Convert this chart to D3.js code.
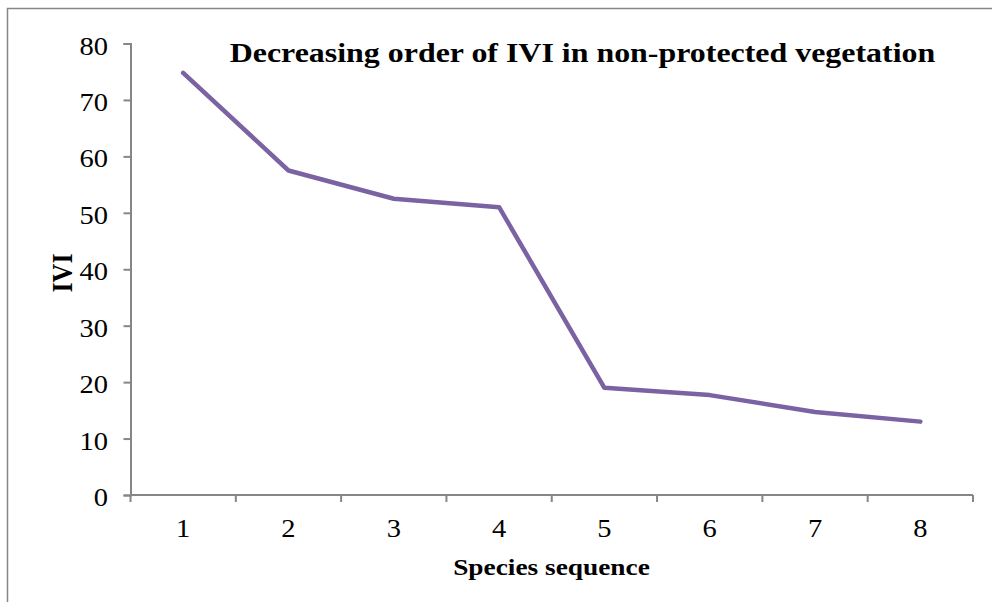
<!DOCTYPE html>
<html>
<head>
<meta charset="utf-8">
<script src="https://cdn.jsdelivr.net/npm/d3@7"></script>
<style>
  body { margin: 0; background: #fff; }
  svg text { font-family: "Liberation Serif", "Times New Roman", serif; fill: #000; }
</style>
</head>
<body>
<div id="chart"></div>
<script>
var species = ["1", "2", "3", "4", "5", "6", "7", "8"];
var ivi = [74.8, 57.5, 52.5, 51.0, 19.0, 17.7, 14.7, 13.0];
var yTicks = [0, 10, 20, 30, 40, 50, 60, 70, 80];

var width = 992, height = 602;
var margin = {top: 43.5, right: 19, bottom: 107, left: 130.5};
// the original picture is a little stretched sideways, text too
var sx = 1.14;

var svg = d3.select("#chart").append("svg")
  .attr("width", width)
  .attr("height", height);

// outer chart border (runs off right/bottom like the original crop)
svg.append("rect")
  .attr("x", 7.5).attr("y", 8.5)
  .attr("width", 1000).attr("height", 700)
  .attr("fill", "none")
  .attr("stroke", "#868686")
  .attr("stroke-width", 1.5);

var x = d3.scaleBand().domain(species).range([margin.left, width - margin.right]);
var y = d3.scaleLinear().domain([0, 80]).range([height - margin.bottom, margin.top]);

var axisColor = "#868686";

// y axis
var yAxis = svg.append("g")
  .attr("transform", "translate(" + margin.left + ",0)")
  .call(d3.axisLeft(y).tickValues(yTicks).tickSize(7));
yAxis.select(".domain").attr("stroke", axisColor).attr("stroke-width", 2);
yAxis.selectAll(".tick line").attr("stroke", axisColor).attr("stroke-width", 2);
yAxis.selectAll(".tick text")
  .attr("x", -22.5 / sx)
  .attr("dy", "0.42em")
  .attr("transform", "scale(" + sx + ",1)")
  .attr("font-size", 25)
  .attr("fill", "#000");

// x axis, ticks at category boundaries
var xAxisG = svg.append("g")
  .attr("transform", "translate(0," + y(0) + ")");
xAxisG.append("line")
  .attr("x1", x.range()[0]).attr("x2", x.range()[1])
  .attr("y1", 0).attr("y2", 0)
  .attr("stroke", axisColor).attr("stroke-width", 2);
var bounds = species.map(function(d) { return x(d); }).concat([x.range()[1]]);
xAxisG.selectAll(".xtick")
  .data(bounds)
  .enter().append("line")
  .attr("x1", function(d) { return d; })
  .attr("x2", function(d) { return d; })
  .attr("y1", 0).attr("y2", 7)
  .attr("stroke", axisColor).attr("stroke-width", 2);
xAxisG.selectAll(".xlab")
  .data(species)
  .enter().append("text")
  .attr("transform", function(d) {
    return "translate(" + (x(d) + x.bandwidth() / 2) + ",42) scale(" + sx + ",1)";
  })
  .attr("text-anchor", "middle")
  .attr("font-size", 25)
  .text(function(d) { return d; });

// line
var line = d3.line()
  .x(function(d, i) { return x(species[i]) + x.bandwidth() / 2; })
  .y(function(d) { return y(d); });

svg.append("path")
  .datum(ivi)
  .attr("d", line)
  .attr("fill", "none")
  .attr("stroke", "#7B62A3")
  .attr("stroke-width", 4.5)
  .attr("stroke-linecap", "round")
  .attr("stroke-linejoin", "round");

// title
svg.append("text")
  .attr("transform", "translate(582.5,62) scale(" + sx + ",1)")
  .attr("text-anchor", "middle")
  .attr("font-size", 28)
  .attr("font-weight", "bold")
  .text("Decreasing order of IVI in non-protected vegetation");

// axis titles
svg.append("text")
  .attr("transform", "translate(551.5,575) scale(" + sx + ",1)")
  .attr("text-anchor", "middle")
  .attr("font-size", 24)
  .attr("font-weight", "bold")
  .text("Species sequence");

svg.append("text")
  .attr("transform", "translate(72,273) scale(" + sx + ",1) rotate(-90)")
  .attr("text-anchor", "middle")
  .attr("font-size", 26)
  .attr("font-weight", "bold")
  .text("IVI");
</script>
</body>
</html>
